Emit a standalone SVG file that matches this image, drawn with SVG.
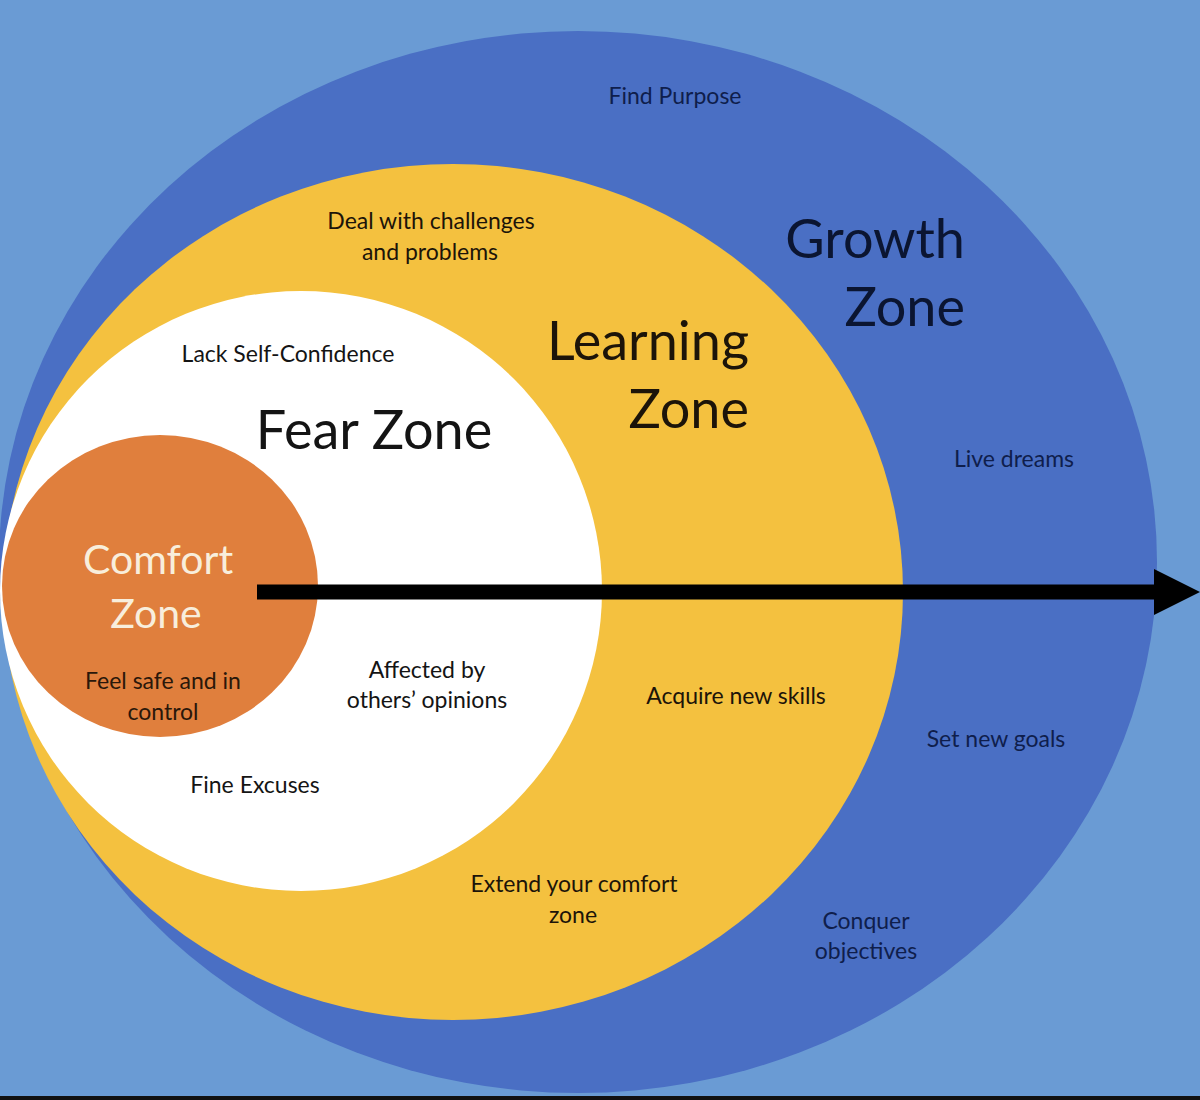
<svg xmlns="http://www.w3.org/2000/svg" width="1200" height="1100" viewBox="0 0 1200 1100">
  <defs>
    <style>
      .t { font-family: "Lato", "Carlito", "Liberation Sans", sans-serif; }
      .sm { font-size: 23px; }
      .big { font-size: 54px; }
      .mid { font-size: 41px; }
      .navy { fill: #0f1e4c; }
      .dark { fill: #1c1409; }
      .black { fill: #141414; }
      .cream { fill: #f8eedc; }
      .brown { fill: #2a170a; }
      .c { text-anchor: middle; }
      .e { text-anchor: end; }
    </style>
    <marker id="arrowhead" markerUnits="userSpaceOnUse" markerWidth="46" markerHeight="46" viewBox="0 0 46 46" refX="2" refY="23" orient="auto">
      <path d="M0,0 L46,23 L0,46 Z" fill="#000"/>
    </marker>
  </defs>

  <rect x="0" y="0" width="1200" height="1100" fill="#6a9bd4"/>

  <g id="growth-zone">
    <ellipse cx="578" cy="562" rx="579" ry="531" fill="#4a6fc4"/>
    <text class="t sm navy c" x="675" y="104">Find Purpose</text>
    <text class="t big e" x="965" y="258" fill="#0b1531">Growth</text>
    <text class="t big e" x="965" y="326" fill="#0b1531">Zone</text>
    <text class="t sm navy c" x="1014" y="467">Live dreams</text>
    <text class="t sm navy c" x="996" y="747">Set new goals</text>
    <text class="t sm navy c" x="866" y="929">Conquer</text>
    <text class="t sm navy c" x="866" y="959">objectives</text>
  </g>

  <g id="learning-zone">
    <ellipse cx="453" cy="592" rx="450" ry="428" fill="#f4c13f"/>
    <text class="t sm dark c" x="431" y="229">Deal with challenges</text>
    <text class="t sm dark c" x="430" y="260">and problems</text>
    <text class="t big e dark" x="749" y="360">Learning</text>
    <text class="t big e dark" x="749" y="428">Zone</text>
    <text class="t sm dark c" x="736" y="704">Acquire new skills</text>
    <text class="t sm dark c" x="574" y="892">Extend your comfort</text>
    <text class="t sm dark c" x="573" y="923">zone</text>
  </g>

  <g id="fear-zone">
    <ellipse cx="301" cy="591" rx="301" ry="300" fill="#ffffff"/>
    <text class="t sm black c" x="288" y="362">Lack Self-Confidence</text>
    <text class="t big black c" x="374" y="449">Fear Zone</text>
    <text class="t sm black c" x="427" y="678">Affected by</text>
    <text class="t sm black c" x="427" y="708">others’ opinions</text>
    <text class="t sm black c" x="255" y="793">Fine Excuses</text>
  </g>

  <g id="comfort-zone">
    <ellipse cx="160" cy="586" rx="158" ry="151" fill="#e07f3d"/>
    <text class="t mid cream c" x="158" y="574">Comfort</text>
    <text class="t mid cream c" x="156" y="628">Zone</text>
    <text class="t sm brown c" x="163" y="689">Feel safe and in</text>
    <text class="t sm brown c" x="163" y="720">control</text>
  </g>

  <g id="connectors">
    <line x1="257" y1="592" x2="1156" y2="592" stroke="#000" stroke-width="15" marker-end="url(#arrowhead)"/>
  </g>

  <rect x="0" y="1096" width="1200" height="4" fill="#111"/>
</svg>
